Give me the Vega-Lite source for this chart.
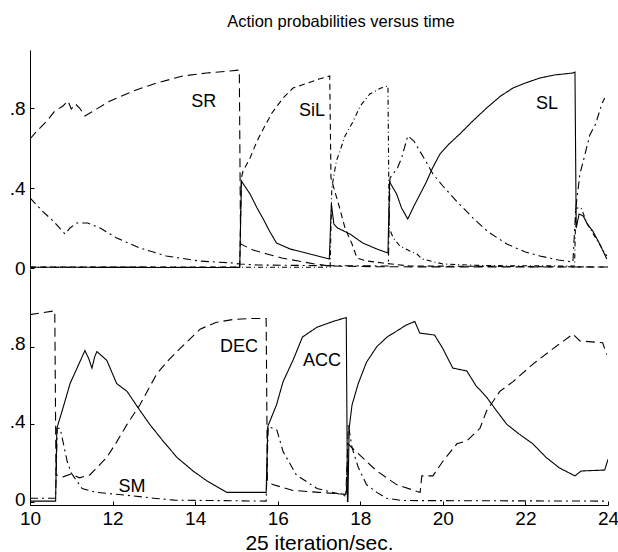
{
  "$schema": "https://vega.github.io/schema/vega-lite/v6.json",
  "padding": {"left": 9, "top": 13, "right": 0, "bottom": 0},
  "background": "white",
  "title": {"text": "Action probabilities versus time", "fontSize": 16.5, "font": "Liberation Sans", "fontWeight": "normal", "color": "black", "dx": 27, "offset": 20, "anchor": "middle"},
  "spacing": 1,
  "bounds": "flush",
  "datasets": {
    "top": [
      {"s":"SR","x":10,"y":0.645},{"s":"SR","x":10.17,"y":0.685},{"s":"SR","x":10.41,"y":0.735},{"s":"SR","x":10.6,"y":0.785},{"s":"SR","x":10.8,"y":0.81},{"s":"SR","x":10.92,"y":0.835},{"s":"SR","x":11.0,"y":0.795},{"s":"SR","x":11.1,"y":0.82},{"s":"SR","x":11.2,"y":0.8},{"s":"SR","x":11.33,"y":0.76},{"s":"SR","x":11.53,"y":0.785},{"s":"SR","x":11.94,"y":0.835},{"s":"SR","x":12.5,"y":0.885},{"s":"SR","x":13.07,"y":0.925},{"s":"SR","x":13.7,"y":0.96},{"s":"SR","x":14.28,"y":0.975},{"s":"SR","x":14.84,"y":0.985},{"s":"SR","x":15.07,"y":0.99},{"s":"SR","x":15.1,"y":0.12},{"s":"SR","x":15.4,"y":0.09},{"s":"SR","x":15.74,"y":0.07},{"s":"SR","x":16.1,"y":0.05},{"s":"SR","x":16.5,"y":0.035},{"s":"SR","x":16.9,"y":0.02},{"s":"SR","x":17.25,"y":0.01},{"s":"SR","x":18.5,"y":0.006},{"s":"SR","x":24,"y":0.005},
      {"s":"S2","x":10,"y":0.35},{"s":"S2","x":10.3,"y":0.285},{"s":"S2","x":10.56,"y":0.235},{"s":"S2","x":10.85,"y":0.17},{"s":"S2","x":10.97,"y":0.2},{"s":"S2","x":11.13,"y":0.225},{"s":"S2","x":11.4,"y":0.225},{"s":"S2","x":11.7,"y":0.2},{"s":"S2","x":12.1,"y":0.15},{"s":"S2","x":12.66,"y":0.1},{"s":"S2","x":13.3,"y":0.06},{"s":"S2","x":14.1,"y":0.035},{"s":"S2","x":14.9,"y":0.025},{"s":"S2","x":15.08,"y":0.02},{"s":"S2","x":15.5,"y":0.015},{"s":"S2","x":17.0,"y":0.012},{"s":"S2","x":18.68,"y":0.01},{"s":"S2","x":18.72,"y":0.45},{"s":"S2","x":18.9,"y":0.5},{"s":"S2","x":19.0,"y":0.55},{"s":"S2","x":19.15,"y":0.66},{"s":"S2","x":19.3,"y":0.635},{"s":"S2","x":19.44,"y":0.585},{"s":"S2","x":19.6,"y":0.53},{"s":"S2","x":19.76,"y":0.47},{"s":"S2","x":20.0,"y":0.41},{"s":"S2","x":20.35,"y":0.33},{"s":"S2","x":20.73,"y":0.25},{"s":"S2","x":21.1,"y":0.18},{"s":"S2","x":21.55,"y":0.12},{"s":"S2","x":22.0,"y":0.08},{"s":"S2","x":22.35,"y":0.06},{"s":"S2","x":22.8,"y":0.04},{"s":"S2","x":23.15,"y":0.03},{"s":"S2","x":23.22,"y":0.3},{"s":"S2","x":23.32,"y":0.47},{"s":"S2","x":23.42,"y":0.55},{"s":"S2","x":23.56,"y":0.665},{"s":"S2","x":23.7,"y":0.72},{"s":"S2","x":23.85,"y":0.82},{"s":"S2","x":23.92,"y":0.85},
      {"s":"SiL","x":10,"y":0.005},{"s":"SiL","x":15.08,"y":0.005},{"s":"SiL","x":15.12,"y":0.45},{"s":"SiL","x":15.16,"y":0.485},{"s":"SiL","x":15.33,"y":0.55},{"s":"SiL","x":15.5,"y":0.635},{"s":"SiL","x":15.65,"y":0.695},{"s":"SiL","x":15.86,"y":0.775},{"s":"SiL","x":16.13,"y":0.85},{"s":"SiL","x":16.37,"y":0.9},{"s":"SiL","x":16.73,"y":0.925},{"s":"SiL","x":17.0,"y":0.945},{"s":"SiL","x":17.26,"y":0.96},{"s":"SiL","x":17.29,"y":0.45},{"s":"SiL","x":17.5,"y":0.3},{"s":"SiL","x":17.63,"y":0.2},{"s":"SiL","x":17.8,"y":0.12},{"s":"SiL","x":17.92,"y":0.05},{"s":"SiL","x":18.16,"y":0.035},{"s":"SiL","x":18.55,"y":0.025},{"s":"SiL","x":18.75,"y":0.02},{"s":"SiL","x":19.2,"y":0.01},{"s":"SiL","x":24,"y":0.005},
      {"s":"S4","x":10,"y":0.004},{"s":"S4","x":17.27,"y":0.004},{"s":"S4","x":17.31,"y":0.4},{"s":"S4","x":17.42,"y":0.535},{"s":"S4","x":17.5,"y":0.58},{"s":"S4","x":17.63,"y":0.66},{"s":"S4","x":17.82,"y":0.73},{"s":"S4","x":18.0,"y":0.81},{"s":"S4","x":18.23,"y":0.87},{"s":"S4","x":18.5,"y":0.9},{"s":"S4","x":18.67,"y":0.91},{"s":"S4","x":18.7,"y":0.2},{"s":"S4","x":18.8,"y":0.15},{"s":"S4","x":18.96,"y":0.11},{"s":"S4","x":19.2,"y":0.085},{"s":"S4","x":19.37,"y":0.07},{"s":"S4","x":19.5,"y":0.045},{"s":"S4","x":19.7,"y":0.035},{"s":"S4","x":20.0,"y":0.02},{"s":"S4","x":21.0,"y":0.012},{"s":"S4","x":23.19,"y":0.01},{"s":"S4","x":23.22,"y":0.3},{"s":"S4","x":23.35,"y":0.3},{"s":"S4","x":23.5,"y":0.22},{"s":"S4","x":23.7,"y":0.15},{"s":"S4","x":23.85,"y":0.1},{"s":"S4","x":23.97,"y":0.06},
      {"s":"SL","x":10,"y":0.004},{"s":"SL","x":15.08,"y":0.002},{"s":"SL","x":15.12,"y":0.435},{"s":"SL","x":15.33,"y":0.37},{"s":"SL","x":15.5,"y":0.3},{"s":"SL","x":15.65,"y":0.245},{"s":"SL","x":15.8,"y":0.185},{"s":"SL","x":15.97,"y":0.125},{"s":"SL","x":16.3,"y":0.095},{"s":"SL","x":16.78,"y":0.07},{"s":"SL","x":17.25,"y":0.045},{"s":"SL","x":17.3,"y":0.32},{"s":"SL","x":17.36,"y":0.22},{"s":"SL","x":17.45,"y":0.2},{"s":"SL","x":17.75,"y":0.17},{"s":"SL","x":18.06,"y":0.125},{"s":"SL","x":18.4,"y":0.095},{"s":"SL","x":18.67,"y":0.075},{"s":"SL","x":18.71,"y":0.43},{"s":"SL","x":18.88,"y":0.37},{"s":"SL","x":19.0,"y":0.3},{"s":"SL","x":19.15,"y":0.245},{"s":"SL","x":19.3,"y":0.31},{"s":"SL","x":19.45,"y":0.37},{"s":"SL","x":19.6,"y":0.43},{"s":"SL","x":19.75,"y":0.5},{"s":"SL","x":19.93,"y":0.57},{"s":"SL","x":20.15,"y":0.62},{"s":"SL","x":20.41,"y":0.67},{"s":"SL","x":20.7,"y":0.73},{"s":"SL","x":21.06,"y":0.8},{"s":"SL","x":21.4,"y":0.86},{"s":"SL","x":21.7,"y":0.9},{"s":"SL","x":22.0,"y":0.925},{"s":"SL","x":22.35,"y":0.95},{"s":"SL","x":22.7,"y":0.965},{"s":"SL","x":23.15,"y":0.975},{"s":"SL","x":23.2,"y":0.98},{"s":"SL","x":23.23,"y":0.2},{"s":"SL","x":23.3,"y":0.27},{"s":"SL","x":23.4,"y":0.26},{"s":"SL","x":23.5,"y":0.22},{"s":"SL","x":23.63,"y":0.185},{"s":"SL","x":23.8,"y":0.12},{"s":"SL","x":23.97,"y":0.045}
    ],
    "bot": [
      {"s":"DEC","x":10,"y":0.965},{"s":"DEC","x":10.3,"y":0.975},{"s":"DEC","x":10.6,"y":0.985},{"s":"DEC","x":10.63,"y":0.14},{"s":"DEC","x":10.8,"y":0.13},{"s":"DEC","x":11.0,"y":0.145},{"s":"DEC","x":11.2,"y":0.125},{"s":"DEC","x":11.45,"y":0.14},{"s":"DEC","x":11.86,"y":0.23},{"s":"DEC","x":12.1,"y":0.31},{"s":"DEC","x":12.35,"y":0.4},{"s":"DEC","x":12.66,"y":0.5},{"s":"DEC","x":13.07,"y":0.66},{"s":"DEC","x":13.35,"y":0.73},{"s":"DEC","x":13.63,"y":0.79},{"s":"DEC","x":14.12,"y":0.89},{"s":"DEC","x":14.5,"y":0.925},{"s":"DEC","x":14.92,"y":0.94},{"s":"DEC","x":15.3,"y":0.945},{"s":"DEC","x":15.72,"y":0.945},{"s":"DEC","x":15.75,"y":0.11},{"s":"DEC","x":15.88,"y":0.09},{"s":"DEC","x":16.37,"y":0.06},{"s":"DEC","x":17.0,"y":0.05},{"s":"DEC","x":17.65,"y":0.04},{"s":"DEC","x":17.7,"y":0.3},{"s":"DEC","x":17.95,"y":0.25},{"s":"DEC","x":18.4,"y":0.16},{"s":"DEC","x":18.88,"y":0.09},{"s":"DEC","x":19.37,"y":0.055},{"s":"DEC","x":19.45,"y":0.05},{"s":"DEC","x":19.49,"y":0.135},{"s":"DEC","x":19.76,"y":0.135},{"s":"DEC","x":20.0,"y":0.21},{"s":"DEC","x":20.34,"y":0.3},{"s":"DEC","x":20.58,"y":0.315},{"s":"DEC","x":20.9,"y":0.38},{"s":"DEC","x":21.06,"y":0.47},{"s":"DEC","x":21.38,"y":0.57},{"s":"DEC","x":21.7,"y":0.62},{"s":"DEC","x":22.18,"y":0.71},{"s":"DEC","x":22.67,"y":0.79},{"s":"DEC","x":23.15,"y":0.865},{"s":"DEC","x":23.32,"y":0.83},{"s":"DEC","x":23.87,"y":0.82},{"s":"DEC","x":23.97,"y":0.76},
      {"s":"ACC","x":10,"y":0.005},{"s":"ACC","x":10.62,"y":0.005},{"s":"ACC","x":10.65,"y":0.38},{"s":"ACC","x":10.8,"y":0.485},{"s":"ACC","x":10.97,"y":0.61},{"s":"ACC","x":11.14,"y":0.69},{"s":"ACC","x":11.33,"y":0.78},{"s":"ACC","x":11.42,"y":0.74},{"s":"ACC","x":11.5,"y":0.69},{"s":"ACC","x":11.57,"y":0.75},{"s":"ACC","x":11.62,"y":0.775},{"s":"ACC","x":11.86,"y":0.73},{"s":"ACC","x":12.1,"y":0.61},{"s":"ACC","x":12.35,"y":0.57},{"s":"ACC","x":12.62,"y":0.485},{"s":"ACC","x":12.9,"y":0.4},{"s":"ACC","x":13.22,"y":0.315},{"s":"ACC","x":13.56,"y":0.23},{"s":"ACC","x":13.95,"y":0.16},{"s":"ACC","x":14.28,"y":0.11},{"s":"ACC","x":14.77,"y":0.05},{"s":"ACC","x":15.2,"y":0.05},{"s":"ACC","x":15.72,"y":0.05},{"s":"ACC","x":15.76,"y":0.39},{"s":"ACC","x":15.97,"y":0.5},{"s":"ACC","x":16.13,"y":0.62},{"s":"ACC","x":16.37,"y":0.73},{"s":"ACC","x":16.6,"y":0.85},{"s":"ACC","x":16.95,"y":0.9},{"s":"ACC","x":17.34,"y":0.93},{"s":"ACC","x":17.66,"y":0.95},{"s":"ACC","x":17.69,"y":0.0},
      {"s":"S5","x":17.7,"y":0.0},{"s":"S5","x":17.73,"y":0.38},{"s":"S5","x":17.8,"y":0.5},{"s":"S5","x":17.95,"y":0.61},{"s":"S5","x":18.15,"y":0.72},{"s":"S5","x":18.4,"y":0.8},{"s":"S5","x":18.65,"y":0.85},{"s":"S5","x":18.88,"y":0.88},{"s":"S5","x":19.1,"y":0.91},{"s":"S5","x":19.32,"y":0.93},{"s":"S5","x":19.44,"y":0.87},{"s":"S5","x":19.8,"y":0.86},{"s":"S5","x":20.0,"y":0.79},{"s":"S5","x":20.24,"y":0.69},{"s":"S5","x":20.58,"y":0.675},{"s":"S5","x":20.8,"y":0.6},{"s":"S5","x":21.06,"y":0.54},{"s":"S5","x":21.3,"y":0.47},{"s":"S5","x":21.55,"y":0.4},{"s":"S5","x":21.85,"y":0.35},{"s":"S5","x":22.18,"y":0.3},{"s":"S5","x":22.5,"y":0.23},{"s":"S5","x":22.83,"y":0.175},{"s":"S5","x":23.2,"y":0.135},{"s":"S5","x":23.35,"y":0.16},{"s":"S5","x":23.92,"y":0.165},{"s":"S5","x":24,"y":0.22},
      {"s":"SM","x":10,"y":0.02},{"s":"SM","x":10.62,"y":0.02},{"s":"SM","x":10.66,"y":0.38},{"s":"SM","x":10.73,"y":0.38},{"s":"SM","x":10.9,"y":0.21},{"s":"SM","x":11.0,"y":0.15},{"s":"SM","x":11.26,"y":0.07},{"s":"SM","x":11.6,"y":0.05},{"s":"SM","x":12.35,"y":0.035},{"s":"SM","x":13.0,"y":0.02},{"s":"SM","x":13.5,"y":0.01},{"s":"SM","x":15.72,"y":0.005},{"s":"SM","x":15.77,"y":0.39},{"s":"SM","x":15.98,"y":0.37},{"s":"SM","x":16.13,"y":0.26},{"s":"SM","x":16.45,"y":0.14},{"s":"SM","x":16.95,"y":0.07},{"s":"SM","x":17.43,"y":0.045},{"s":"SM","x":17.66,"y":0.03},{"s":"SM","x":17.71,"y":0.4},{"s":"SM","x":17.8,"y":0.28},{"s":"SM","x":17.95,"y":0.18},{"s":"SM","x":18.15,"y":0.09},{"s":"SM","x":18.4,"y":0.05},{"s":"SM","x":18.64,"y":0.02},{"s":"SM","x":19.0,"y":0.008},{"s":"SM","x":24,"y":0.005}
    ],
    "topLab": [
      {"label":"SR","x":14.21,"y":0.83},{"label":"SiL","x":16.83,"y":0.785},{"label":"SL","x":22.52,"y":0.82}
    ],
    "botLab": [
      {"label":"DEC","x":15.06,"y":0.8},{"label":"ACC","x":17.07,"y":0.727},{"label":"SM","x":12.47,"y":0.08}
    ]
  },
  "vconcat": [
    {
      "width": 578, "height": 218,
      "layer": [
        {
          "data": {"name": "top"},
          "mark": {"type": "line", "color": "black", "strokeWidth": 1.1, "clip": true},
          "encoding": {
            "x": {"field": "x", "type": "quantitative", "scale": {"domain": [10, 24], "nice": false, "zero": false}, "axis": null},
            "y": {"field": "y", "type": "quantitative", "scale": {"domain": [0, 1.09], "nice": false}, "axis": {"values": [0, 0.4, 0.8], "labelExpr": "datum.value == 0 ? '0' : replace(format(datum.value, '.1f'), '0.', '.')", "title": null, "tickSize": -4, "labelPadding": 9}},
            "strokeDash": {"field": "s", "type": "nominal", "scale": {"domain": ["SR","S2","SiL","S4","SL","DEC","ACC","S5","SM"], "range": [[9,5],[8,4,2,4],[6,4],[5,3,1,3],[1,0],[9,5],[1,0],[1,0],[8,4,2,4]]}, "legend": null}
          }
        },
        {
          "data": {"name": "topLab"},
          "mark": {"type": "text", "fontSize": 18, "font": "Liberation Sans", "color": "black"},
          "encoding": {
            "x": {"field": "x", "type": "quantitative"},
            "y": {"field": "y", "type": "quantitative"},
            "text": {"field": "label"}
          }
        }
      ]
    },
    {
      "width": 578, "height": 236,
      "layer": [
        {
          "data": {"name": "bot"},
          "mark": {"type": "line", "color": "black", "strokeWidth": 1.1, "clip": true},
          "encoding": {
            "x": {"field": "x", "type": "quantitative", "scale": {"domain": [10, 24], "nice": false, "zero": false}, "axis": {"values": [10, 12, 14, 16, 18, 20, 22, 24], "title": "25 iteration/sec.", "titleFontSize": 21, "tickSize": -4, "labelPadding": 8, "titlePadding": 4, "labelFlush": false, "labelOverlap": false}},
            "y": {"field": "y", "type": "quantitative", "scale": {"domain": [-0.015, 1.2], "nice": false, "zero": false}, "axis": {"values": [0, 0.4, 0.8], "labelExpr": "datum.value == 0 ? '0' : replace(format(datum.value, '.1f'), '0.', '.')", "title": null, "tickSize": -4, "labelPadding": 9, "labelBaseline": "bottom", "labelOffset": 7}},
            "strokeDash": {"field": "s", "type": "nominal", "scale": {"domain": ["SR","S2","SiL","S4","SL","DEC","ACC","S5","SM"], "range": [[9,5],[8,4,2,4],[6,4],[5,3,1,3],[1,0],[9,5],[1,0],[1,0],[8,4,2,4]]}, "legend": null}
          }
        },
        {
          "data": {"name": "botLab"},
          "mark": {"type": "text", "fontSize": 18, "font": "Liberation Sans", "color": "black"},
          "encoding": {
            "x": {"field": "x", "type": "quantitative"},
            "y": {"field": "y", "type": "quantitative"},
            "text": {"field": "label"}
          }
        }
      ]
    }
  ],
  "config": {
    "view": {"stroke": null},
    "axis": {"grid": false, "domainColor": "black", "domainWidth": 1, "tickColor": "black", "labelColor": "black", "labelFont": "Liberation Sans", "labelFontSize": 19, "titleFont": "Liberation Sans", "titleFontWeight": "normal", "titleColor": "black"}
  }
}
